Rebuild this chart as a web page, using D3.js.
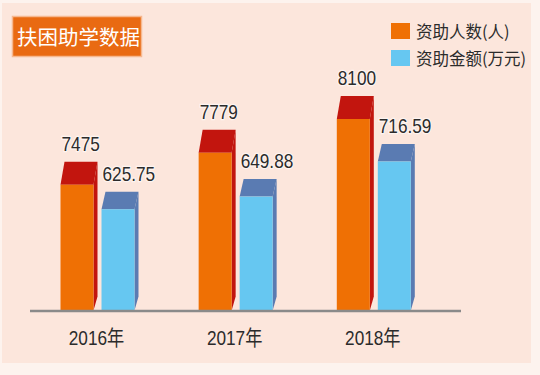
<!DOCTYPE html>
<html>
<head>
    <meta charset="utf-8" />
    <title></title>
    <style>
        body { margin: 0; background: #fdf3ee; }
        text { font-family: "Liberation Sans", Arial, "Noto Sans CJK SC", sans-serif; fill: #2b2b2b; }
        .cjk { font-family: "Noto Sans CJK SC", sans-serif; }
        .value { font-size: 21px; stroke: #fff; stroke-width: 2.5px; stroke-opacity: 0.6; paint-order: stroke; }
    </style>
</head>
<body>
    <script src="https://d3js.org/d3.v7.min.js"></script>
    <script>
      var years = ["2016年", "2017年", "2018年"];
      var people = [7475, 7779, 8100];
      var funds = [625.75, 649.88, 716.59];
      var seriesNames = ["资助人数(人)", "资助金额(万元)"];
      var title = "扶困助学数据";

      var width = 540, height = 375;
      var baseY = 310.5;
      var barW = 33;
      var narrow = 0.82;

      var svg = d3.select("body").append("svg")
          .attr("width", width)
          .attr("height", height);

      svg.append("rect")
          .attr("x", 2).attr("y", 3)
          .attr("width", 529).attr("height", 360)
          .attr("fill", "#fce6dc");

      var x = d3.scalePoint().domain(years).range([97.5, 373.8]);
      var yPeople = d3.scaleLinear().domain([6280, 8100]).range([baseY, 119]);
      var yFunds = d3.scaleLinear().domain([433, 716.59]).range([baseY, 161.5]);

      // one 3d-ish bar: front face, top face, side strip
      function bar(g, x0, yTop, depth, front, dark) {
        var x1 = x0 + barW, dx = 4;
        g.append("path")
            .attr("d", "M" + x1 + "," + yTop + "L" + (x1 + dx) + "," + (yTop - depth) +
                  "L" + (x1 + dx) + "," + (baseY - 14) + "L" + x1 + "," + baseY + "Z")
            .attr("fill", dark);
        g.append("path")
            .attr("d", "M" + x0 + "," + yTop + "L" + (x0 + dx) + "," + (yTop - depth) +
                  "L" + (x1 + dx) + "," + (yTop - depth) + "L" + x1 + "," + yTop + "Z")
            .attr("fill", dark);
        g.append("rect")
            .attr("x", x0).attr("y", yTop)
            .attr("width", barW).attr("height", baseY - yTop)
            .attr("fill", front);
      }

      // narrow text, the picture uses a condensed face
      function label(g, tx, ty, str) {
        return g.append("text")
            .attr("transform", "translate(" + tx + "," + ty + ") scale(" + narrow + ",1)")
            .text(str);
      }

      var groups = svg.append("g");
      years.forEach(function(yr, i) {
        var c = x(yr);
        var g = groups.append("g");
        var yp = yPeople(people[i]), yf = yFunds(funds[i]);
        bar(g, c - 37, yp, 23, "#ef7004", "#c2150e");
        bar(g, c + 4, yf, 17.5, "#66c7f1", "#5a7bb2");

        label(g, c - 36, yp - 23 - 11, people[i]).attr("class", "value");
        label(g, c + 5, yf - 17.5 - 11, d3.format(".2f")(funds[i])).attr("class", "value");

        label(g, c - 1, 345, yr)
            .attr("text-anchor", "middle")
            .attr("font-size", "21px");
      });

      svg.append("line")
          .attr("x1", 30).attr("x2", 461)
          .attr("y1", baseY + 0.5).attr("y2", baseY + 0.5)
          .attr("stroke", "#8a8a8a")
          .attr("stroke-width", 2.5);

      // title box
      svg.append("rect")
          .attr("x", 12.5).attr("y", 16.5)
          .attr("width", 129).attr("height", 40)
          .attr("fill", "#e96a12")
          .attr("stroke", "#f6b88f")
          .attr("stroke-width", 1.5);
      svg.append("text").attr("class", "cjk")
          .attr("x", 17).attr("y", 45)
          .attr("font-size", "20.5px")
          .style("fill", "#fff")
          .text(title);

      // legend
      var legendColors = ["#ef7004", "#66c7f1"];
      seriesNames.forEach(function(name, i) {
        svg.append("rect")
            .attr("x", 391).attr("y", 23 + i * 27)
            .attr("width", 19).attr("height", 16)
            .attr("fill", legendColors[i]);
        svg.append("text").attr("class", "cjk")
            .attr("x", 416).attr("y", 37.5 + i * 27)
            .attr("font-size", "16.5px")
            .text(name);
      });
    </script>
</body>
</html>
